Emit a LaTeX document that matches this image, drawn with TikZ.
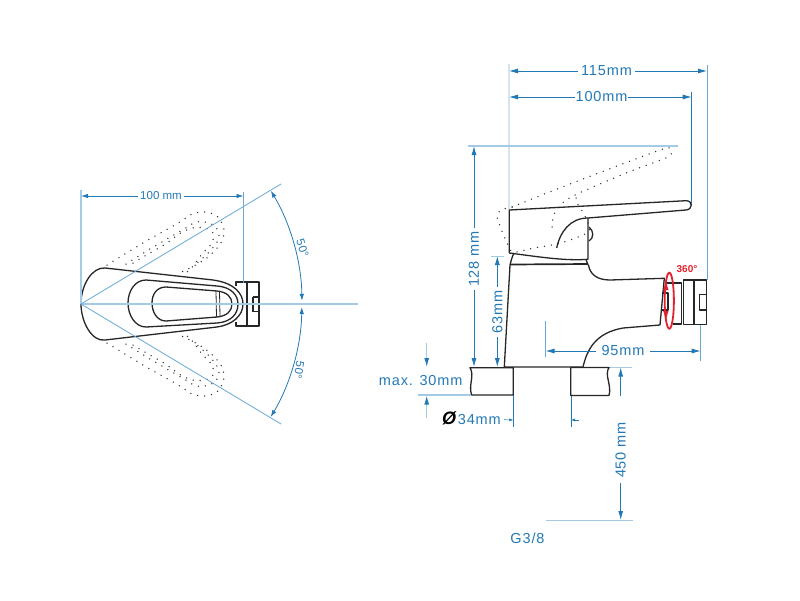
\documentclass[tikz,border=0pt]{standalone}
\usepackage{fontspec}
\usetikzlibrary{arrows.meta}
\setmainfont{Liberation Sans}
\newfontfamily\dimfont[LetterSpace=6]{Liberation Sans}
\definecolor{dimblue}{HTML}{2279B5}
\definecolor{midblue}{HTML}{6AA9D6}
\definecolor{palblue}{HTML}{A3CBE6}
\definecolor{faintblue}{HTML}{D3E5F3}
\definecolor{turnred}{HTML}{E3202E}

\begin{document}
\begin{tikzpicture}[x=1pt,y=-1pt]

\tikzset{outline/.style = {draw=black!85,line width=1.3pt,line join=round}}
\tikzset{ghost/.style = {black!80,line width=1.5pt,line cap=round,dash pattern=on 0pt off 7pt}}
\tikzset{dimtext/.style = {text=dimblue,font=\dimfont\fontsize{14.5}{14.5}\selectfont,inner sep=3pt}}
\tikzset{smalltext/.style = {text=dimblue,font=\fontsize{11.5}{11.5}\selectfont,inner sep=2pt}}
\tikzset{dimline/.style = {dimblue,line width=0.8pt,-{Latex[length=9pt,width=5pt]}}}
\tikzset{extline/.style = {midblue,line width=0.8pt}}
\tikzset{paleline/.style = {palblue,line width=1.2pt}}
\tikzset{faintline/.style = {faintblue,line width=1.5pt}}

\useasboundingbox (0,0) rectangle (800,600);

% top view
\coordinate (pivot) at (81,304);
\coordinate (axisend) at (358,304);
\coordinate (rayup) at (281,184);
\coordinate (raydown) at (281,424);

\foreach \yf/\yo in {1/0,-1/608} {
\begin{scope}[shift={(0,\yo)},yscale=\yf]
\draw[ghost] plot[smooth] coordinates {(107,265) (143,243) (180,222) (192,214) (206,212) (218,217) (224,230) (221,243) (208,257) (190,268) (177,274)};
\draw[ghost] plot[smooth] coordinates {(126,264) (150,249) (184,229) (196,222) (205,222) (215,226) (219,235) (216,244) (205,256) (190,269) (184,276)};
\draw[ghost] plot[smooth] coordinates {(133,263) (150,253) (167,243) (179,234) (192,228) (205,228) (213,233) (212,243) (202,254) (193,266)};
\end{scope}
}

\draw[outline] (81,304) .. controls (81,285) and (92,267) .. (105,268)
  -- (213,280) .. controls (235,283) and (243,294) .. (243,304)
  .. controls (243,316) and (232,325) .. (217,327) -- (105,340)
  .. controls (92,342) and (81,322) .. (81,304) -- cycle;
\draw[outline] (128,303) .. controls (128,291) and (135,280) .. (146,280)
  -- (217,286) .. controls (231,287) and (238,295) .. (238,304)
  .. controls (238,314) and (231,322) .. (217,323) -- (146,327)
  .. controls (135,327) and (128,315) .. (128,303) -- cycle;
\draw[outline] (152,303) .. controls (152,294) and (157,287) .. (166,287)
  -- (217,291) .. controls (227,292) and (232,297) .. (232,304)
  .. controls (232,311) and (227,316) .. (217,317) -- (166,321)
  .. controls (157,321) and (152,312) .. (152,303) -- cycle;
\draw[outline,line width=0.8pt] (216,291) -- (216.5,317) (219.5,291) -- (220,317);
\draw[outline] (236,286) -- (236,282) -- (259,282) -- (259,326) -- (236,326) -- (236,322);
\draw[outline] (247,282) -- (247,326);
\draw[outline] (253,297) -- (259,297) (253,311.5) -- (259,311.5) (253,297) -- (253,311.5);

\draw[paleline] (pivot) -- (axisend);
\draw[paleline] (pivot) -- (81,190);
\draw[extline] (243.5,192) -- (243.5,283);
\draw[extline] (pivot) -- (rayup);
\draw[extline] (pivot) -- (raydown);

\node[smalltext] (topwidth) at (161,196) {100 mm};
\coordinate (topleft) at (81,196);
\coordinate (topright) at (243.5,196);
\draw[dimline,-{Latex[length=7pt,width=4.5pt]}] (topwidth) -- (topleft);
\draw[dimline,-{Latex[length=7pt,width=4.5pt]}] (topwidth) -- (topright);

\draw[dimline,{Latex[length=7pt,width=4.5pt]}-{Latex[length=7pt,width=4.5pt]}] (270.8,190.7) arc[start angle=30.8,end angle=0.8,radius=221pt];
\draw[dimline,{Latex[length=7pt,width=4.5pt]}-{Latex[length=7pt,width=4.5pt]}] (301.8,307) arc[start angle=-0.8,end angle=-30.8,radius=221pt];
\node[smalltext,rotate=-72] (angleup) at (302.5,248) {50°};
\node[smalltext,rotate=-100] (angledown) at (299,370) {50°};

% side view
\draw[ghost] plot[smooth] coordinates {(512,207) (501,210) (497,216) (500,226) (507,243) (513,252) (534,248) (561,243) (587,233) (589,226) (584,214) (577,203) (576,195)};
\draw[ghost] plot[smooth] coordinates {(512,207) (552,191) (604,171) (663,149) (670,150) (668,157) (626,173) (573,196) (558,208) (553,218) (552,230)};

\draw[faintline] (509,64) -- (509,210);
\draw[paleline] (468,146) -- (678,146);
\draw[extline] (707,65) -- (707,280);
\draw[dimline,-] (691.7,92) -- (691.7,205);
\draw[paleline,line width=0.9pt] (491,256) -- (504,256);
\draw[paleline] (418,395) -- (471,395);
\draw[paleline,line width=0.9pt] (608,367.5) -- (632,367.5);
\draw[paleline,line width=0.9pt] (546,520) -- (633,520);
\draw[extline] (545.5,321) -- (545.5,357);
\draw[extline] (700.7,324) -- (700.7,361);
\draw[dimline,-] (513.3,395) -- (513.3,427);
\draw[dimline,-] (571,395) -- (571,427);

\draw[outline] (509.3,210) -- (686,200.7) .. controls (693,200.5) and (693,209.5) .. (686,210)
  -- (588,218) -- (588,259.3) .. controls (565,261) and (540,257) .. (509.3,253) -- cycle;
\draw[outline] (588,218) .. controls (570,218) and (560,232) .. (556.7,248);
\draw[outline] (589,227) .. controls (594,231) and (594,238) .. (589,241);
\draw[outline] (514,253) .. controls (512,257) and (511,261) .. (510,265);
\draw[outline] (586,259.5) -- (588,265);
\draw[outline,line width=1.7pt] (510,264.5) -- (588,264);
\draw[outline] (510,265) -- (504.3,367) -- (583,367)
  .. controls (587,350) and (595,333) .. (623,328) -- (660,325) -- (664.3,278.3)
  -- (610,280) .. controls (598,280) and (590,275) .. (588.5,265);
\draw[outline] (662,293) -- (668,293) -- (668,310) -- (662,310);
\draw[outline] (666,283) -- (681.7,283) -- (681.7,324) -- (673,324);
\draw[outline] (683.3,280) -- (706.7,280) -- (706.7,324.3) -- (683.3,324.3) -- cycle;
\draw[outline] (694,280) -- (694,324.3);
\draw[outline] (706.7,294.5) -- (699.5,294.5) -- (699.5,310) -- (706.7,310);

\draw[turnred,line width=1.8pt] (669.3,300.7) ellipse [x radius=4.6,y radius=28];
\fill[turnred] (666,282) -- (663.2,290) -- (668.5,290) -- cycle;
\fill[turnred] (666,319) -- (663.2,311) -- (668.5,311) -- cycle;
\node[text=turnred,font=\bfseries\fontsize{10}{10}\selectfont,inner sep=0pt] (turnlabel) at (687,269.5) {360°};

\draw[outline] (513.3,367.7) -- (513.3,395) -- (471.7,395) .. controls (468,385) and (475,376) .. (470,367.7) -- cycle;
\draw[outline] (583,367.5) -- (609,367.5) .. controls (604,375) and (612,385) .. (609,395.5) -- (570.7,395.5) -- (570.7,367.5) -- (583,367.5);

% dimension labels
\node[dimtext] (w115) at (606.5,71) {115mm};
\coordinate (w115l) at (509,71);
\coordinate (w115r) at (707,71);
\draw[dimline] (w115) -- (w115l);
\draw[dimline] (w115) -- (w115r);

\node[dimtext,inner sep=0.5pt] (w100) at (601.5,97) {100mm};
\coordinate (w100l) at (509,97);
\coordinate (w100r) at (691.7,97);
\draw[dimline] (w100) -- (w100l);
\draw[dimline] (w100) -- (w100r);

\node[dimtext,rotate=90] (h128) at (474,259) {128 mm};
\coordinate (h128t) at (474,146);
\coordinate (h128b) at (474,367);
\draw[dimline] (h128) -- (h128t);
\draw[dimline] (h128) -- (h128b);

\node[dimtext,rotate=90] (h63) at (497.3,312) {63mm};
\coordinate (h63t) at (497.3,256);
\coordinate (h63b) at (497.3,367);
\draw[dimline] (h63) -- (h63t);
\draw[dimline] (h63) -- (h63b);

\node[dimtext,inner sep=5pt] (w95) at (623,351) {95mm};
\coordinate (w95l) at (545.5,351);
\coordinate (w95r) at (700.7,351);
\draw[dimline] (w95) -- (w95l);
\draw[dimline] (w95) -- (w95r);

\node[dimtext] (max30) at (420.7,381) {max. 30mm};
\coordinate (maxtop) at (426.7,343);
\coordinate (maxtip) at (426.7,367);
\coordinate (minbot) at (426.7,418);
\coordinate (mintip) at (426.7,395.5);
\draw[paleline,-{Latex[length=9pt,width=5pt,color=dimblue]}] (maxtop) -- (maxtip);
\draw[paleline,-{Latex[length=9pt,width=5pt,color=dimblue]}] (minbot) -- (mintip);

\node[dimtext] (d34) at (471.5,418.5) {\textcolor{black}{\fontsize{18}{18}\selectfont\textbf{\textit{Ø}}}34mm};
\coordinate (d34r) at (513.3,420);
\coordinate (d34s) at (579,420);
\coordinate (d34e) at (571,420);
\draw[dimline,-{Latex[length=4pt,width=3pt]},line width=0.5pt] (d34) -- (d34r);
\draw[dimline,-{Latex[length=4pt,width=3pt]},line width=0.5pt] (d34s) -- (d34e);

\node[dimtext,rotate=90,inner sep=5pt] (h450) at (620.7,450) {450 mm};
\coordinate (h450t) at (620.7,367.5);
\coordinate (h450b) at (620.7,520);
\draw[dimline] (620.7,396) -- (h450t);
\draw[dimline] (h450) -- (h450b);

\node[dimtext] (thread) at (527.5,538) {G3/8};

\end{tikzpicture}
\end{document}
